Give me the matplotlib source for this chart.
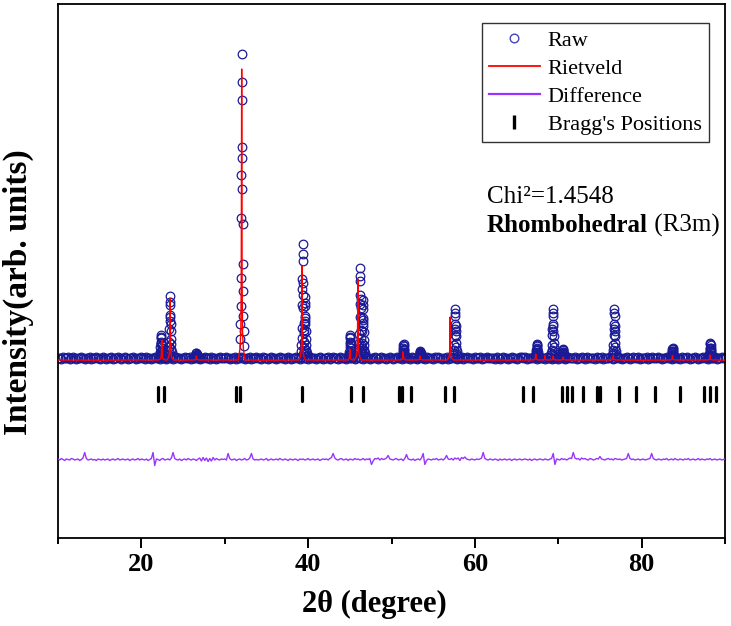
import numpy as np
import matplotlib
matplotlib.use("Agg")
import matplotlib.pyplot as plt
from matplotlib.lines import Line2D
from matplotlib.ticker import FixedLocator

plt.rcParams['font.family'] = ['Liberation Serif', 'DejaVu Serif']

# ---------------- data ----------------
# observed background, scan step 0.2 deg from 10 to 90 (units of 10 counts)
raw_bg_step = 0.2
raw_bg = [
    28,29,27,30,28,29,31,27,28,30,29,27,28,29,30,28,26,29,28,30,
    27,29,28,31,28,27,29,30,28,26,29,28,30,27,29,28,31,29,27,28,
    30,28,27,29,28,30,29,26,28,29,31,28,27,30,28,29,27,28,30,29,
    28,27,30,29,28,26,29,31,28,27,29,30,28,29,27,28,30,28,29,31,
    27,28,29,30,28,27,29,28,31,29,28,26,30,28,29,27,28,30,29,28,
    29,31,28,27,29,28,30,27,28,29,30,28,26,29,28,31,27,29,28,30,
    28,29,27,30,29,28,27,29,31,28,29,27,28,30,28,29,26,28,30,29,
    27,29,28,30,28,27,31,29,28,29,27,30,28,29,28,26,29,30,28,27,
    29,28,30,27,29,31,28,28,27,30,29,28,29,27,30,28,29,31,27,28,
    30,28,29,27,28,30,29,26,28,29,31,28,27,29,30,28,28,27,29,30,
    28,27,29,31,28,29,27,30,28,29,28,26,30,29,28,27,29,31,28,29,
    27,30,28,29,28,27,30,29,31,28,27,29,28,30,26,28,29,30,28,27,
    29,28,31,27,29,30,28,28,29,27,30,29,28,31,27,29,28,30,28,29,
    28,29,27,30,28,26,29,31,28,29,27,28,30,29,28,27,29,30,31,28,
    30,27,29,28,29,31,28,27,30,28,29,28,26,30,29,28,27,29,28,30,
    27,29,30,28,27,29,31,28,29,28,30,27,28,29,31,28,27,30,29,28,
    29,28,27,30,29,28,30,26,28,29,28,31,29,27,28,30,29,28,27,29,
    28,30,29,27,28,31,28,29,30,27,29,28,28,30,27,29,31,28,29,28,
    30,28,27,29,28,30,29,28,26,29,30,28,29,27,30,28,29,31,28,27,
    28,29,30,28,27,29,28,31,29,28,27,30,29,28,30,27,28,29,30,28,
    29]

# observed peaks: position (2theta) and top intensity
raw_peak_pos = [22.36, 23.44, 26.60, 32.05, 39.36, 39.62, 45.05, 46.24, 46.58,
                51.44, 53.44, 57.64, 67.44, 69.36, 70.56, 76.72, 83.72, 88.24]
raw_peak_top = [740, 1520, 380, 6354, 2560, 1500, 740, 2080, 1440,
                560, 420, 1260, 560, 1260, 460, 1260, 480, 580]
raw_peak_base = 280
# points of one observed peak (fraction of height, offset in 2theta), from the 32 deg peak
raw_prof_frac = [1.0, 0.909, 0.851, 0.695, 0.660, 0.601, 0.555, 0.461, 0.442,
                 0.310, 0.265, 0.219, 0.172, 0.139, 0.112, 0.089, 0.063, 0.040]
raw_prof_dx = [0.00, -0.02, 0.03, -0.04, 0.05, -0.05, 0.06, -0.07, 0.08,
               0.10, -0.10, 0.12, -0.13, 0.16, -0.17, 0.20, -0.24, 0.30]

# Rietveld calculated pattern
calc_bg_x = [10, 15, 20, 25, 28.5, 35, 42, 49, 55, 62, 73, 80, 86, 90]
calc_bg_y = [240, 236, 242, 238, 240, 236, 240, 238, 240, 238, 240, 236, 240, 238]
calc_peak_pos = [22.45, 23.45, 26.60, 32.03, 39.28, 45.00, 45.97, 51.40, 53.40,
                 57.04, 67.30, 68.40, 69.40, 70.60, 76.60, 83.70, 88.20]
calc_peak_top = [640, 1480, 320, 6060, 2120, 460, 1860, 400, 320,
                 1100, 360, 330, 320, 300, 330, 330, 340]
calc_base = 240
calc_prof_dx = [-0.40, -0.20, -0.10, -0.05, -0.02, 0.0, 0.02, 0.05, 0.10, 0.20, 0.40]
calc_prof_frac = [0.0, 0.04, 0.10, 0.28, 0.65, 1.0, 0.65, 0.28, 0.10, 0.04, 0.0]

# difference curve, step 0.2 deg (deviation in units of 10 counts around offset)
diff_offset = -1750
diff_step = 0.2
diff_dev = [
    1,-1,2,0,-2,1,0,-1,2,1,-1,0,1,-2,0,3,14,2,-1,0,
    1,-1,0,-2,1,0,-1,1,-1,0,1,-2,0,1,-1,0,2,-1,0,1,
    -1,0,1,-2,0,1,-1,0,2,-1,1,0,-1,1,-2,0,2,14,-12,1,
    0,-2,1,2,-1,0,1,-1,3,14,2,0,-1,1,-2,0,1,-1,2,0,
    -1,1,0,-2,1,3,-3,4,-2,3,-4,2,-3,4,-1,2,0,-1,1,0,
    1,-1,12,2,-1,0,1,-2,0,1,-1,0,2,-1,0,3,12,1,-1,0,
    -1,0,1,-1,0,2,-2,0,1,-1,0,1,-1,2,0,-1,1,0,-2,1,
    0,-1,1,0,-2,1,0,1,-1,0,2,-1,0,1,-1,0,1,-2,0,1,
    0,1,-1,2,4,12,3,0,-1,1,2,-1,0,1,-2,1,0,-1,2,0,
    1,-1,0,2,-1,1,0,2,-10,-3,2,1,3,-1,2,0,1,3,8,1,
    0,-1,1,2,-1,0,1,-2,2,10,1,0,-1,1,-2,0,1,-1,3,12,
    -10,-2,1,0,-1,1,0,2,-1,0,1,-1,2,8,1,0,2,-1,3,1,
    3,-2,4,2,5,1,0,-1,1,0,-1,1,0,1,3,14,2,0,-1,1,
    0,-1,1,0,-2,1,-1,0,1,-1,0,1,-2,0,1,-1,0,1,-1,0,
    1,0,-1,1,-2,0,1,-1,0,1,0,-1,1,0,-1,1,2,12,-10,1,
    0,-1,2,0,1,-1,1,3,2,14,3,1,2,-1,3,1,2,0,-1,2,
    1,-1,0,2,1,6,1,0,-1,1,2,0,1,-1,2,1,0,1,-1,0,
    1,2,12,2,0,1,-1,0,1,-1,0,1,-1,0,1,2,12,2,0,-1,
    1,0,-1,1,0,2,-1,0,1,-1,2,0,-1,1,0,-1,1,0,2,-1,
    0,1,-1,0,2,-1,1,0,-1,1,0,2,-1,0,1,-1,0,1,-1,0,
    1]

# Bragg reflections
bragg_pos = [22.04, 22.76, 31.36, 31.84, 39.28, 45.10, 46.62, 50.84, 51.25, 52.37,
             56.38, 57.50, 65.76, 66.96, 70.48, 71.04, 71.64, 72.96, 74.64, 74.96,
             77.32, 79.32, 81.64, 84.56, 87.52, 88.24, 88.96]
bragg_low, bragg_high = -580, -300

legend_labels = ["Raw", "Rietveld", "Difference", "Bragg's Positions"]

# ---------------- build series ----------------
bg_x = 10 + raw_bg_step * np.arange(len(raw_bg))
bg_y = 10 * np.array(raw_bg, dtype=float)
pk_x, pk_y = [], []
for p, t in zip(raw_peak_pos, raw_peak_top):
    for f, d in zip(raw_prof_frac, raw_prof_dx):
        pk_x.append(p + d)
        pk_y.append(raw_peak_base + f * (t - raw_peak_base))
raw_x = np.concatenate([bg_x, pk_x])
raw_y = np.concatenate([bg_y, pk_y])

cx = list(calc_bg_x)
cy = list(calc_bg_y)
for p, t in zip(calc_peak_pos, calc_peak_top):
    for f, d in zip(calc_prof_frac, calc_prof_dx):
        cx.append(p + d)
        cy.append(calc_base + f * (t - calc_base))
order = np.argsort(cx, kind='stable')
calc_x = np.array(cx)[order]
calc_y = np.array(cy)[order]

diff_x = 10 + diff_step * np.arange(len(diff_dev))
diff_y = diff_offset + 10 * np.array(diff_dev, dtype=float)

# ---------------- draw ----------------
W, H = 731, 626
fig = plt.figure(figsize=(W / 100, H / 100), dpi=100)
ax = fig.add_axes([58 / W, 88 / H, 667 / W, 534 / H])

raw_color = '#1a1a96'
red = '#ff0000'
purple = '#9933ff'

ax.plot(raw_x, raw_y, ls='none', marker='o', mfc='none', mec=raw_color,
        ms=6.2, mew=0.9, zorder=2)
ax.plot(calc_x, calc_y, color=red, lw=1.0, zorder=3)
ax.plot(diff_x, diff_y, color=purple, lw=1.0, zorder=3)
ax.vlines(bragg_pos, bragg_low, bragg_high, color='k', lw=2.3, capstyle='round', zorder=3)

ax.set_xlim(10, 90)
ax.set_ylim(-3320, 7360)
ax.set_yticks([])
ax.xaxis.set_major_locator(FixedLocator([20, 40, 60, 80]))
ax.xaxis.set_minor_locator(FixedLocator([10, 30, 50, 70, 90]))
ax.tick_params(axis='x', which='major', direction='out', length=7.5, width=1.4,
               pad=3.5, labelsize=19)
ax.tick_params(axis='x', which='minor', direction='out', length=4.5, width=1.4)
for lab in ax.get_xticklabels():
    lab.set_fontweight('bold')
for s in ax.spines.values():
    s.set_linewidth(1.3)

fig.text(374 / W, (H - 612) / H, "2θ (degree)", fontsize=22, fontweight='bold',
         ha='center', va='baseline')
fig.text(18 / W, (H - 292) / H, "Intensity(arb. units)", fontsize=24, fontweight='bold',
         rotation=90, ha='center', va='center')

handles = [
    Line2D([], [], ls='none', marker='o', mfc='none', mec='#4444bb', ms=6.2, mew=1.0),
    Line2D([], [], color=red, lw=1.3),
    Line2D([], [], color=purple, lw=1.6),
    Line2D([], [], ls='none', marker='|', color='k', ms=10, mew=2.4),
]
leg = ax.legend(handles, legend_labels, loc='upper right',
                bbox_to_anchor=(0.976, 0.9644), borderaxespad=0, fontsize=16,
                frameon=True, fancybox=False, framealpha=1, edgecolor='#333333',
                handlelength=2.3, handletextpad=0.35, labelspacing=0.33,
                borderpad=0.33, numpoints=1)
leg.get_frame().set_linewidth(1.0)

fig.text(487 / W, (H - 203) / H, "Chi²=1.4548", fontsize=18, ha='left', va='baseline')
t1 = fig.text(487 / W, (H - 232) / H, "Rhombohedral", fontsize=18, fontweight='bold',
              ha='left', va='baseline')
fig.canvas.draw()
bb = t1.get_window_extent(renderer=fig.canvas.get_renderer())
fig.text(bb.x1 / W, (H - 232) / H, " (R3m)", fontsize=18, ha='left', va='baseline')

fig.savefig("out.png", dpi=100)
